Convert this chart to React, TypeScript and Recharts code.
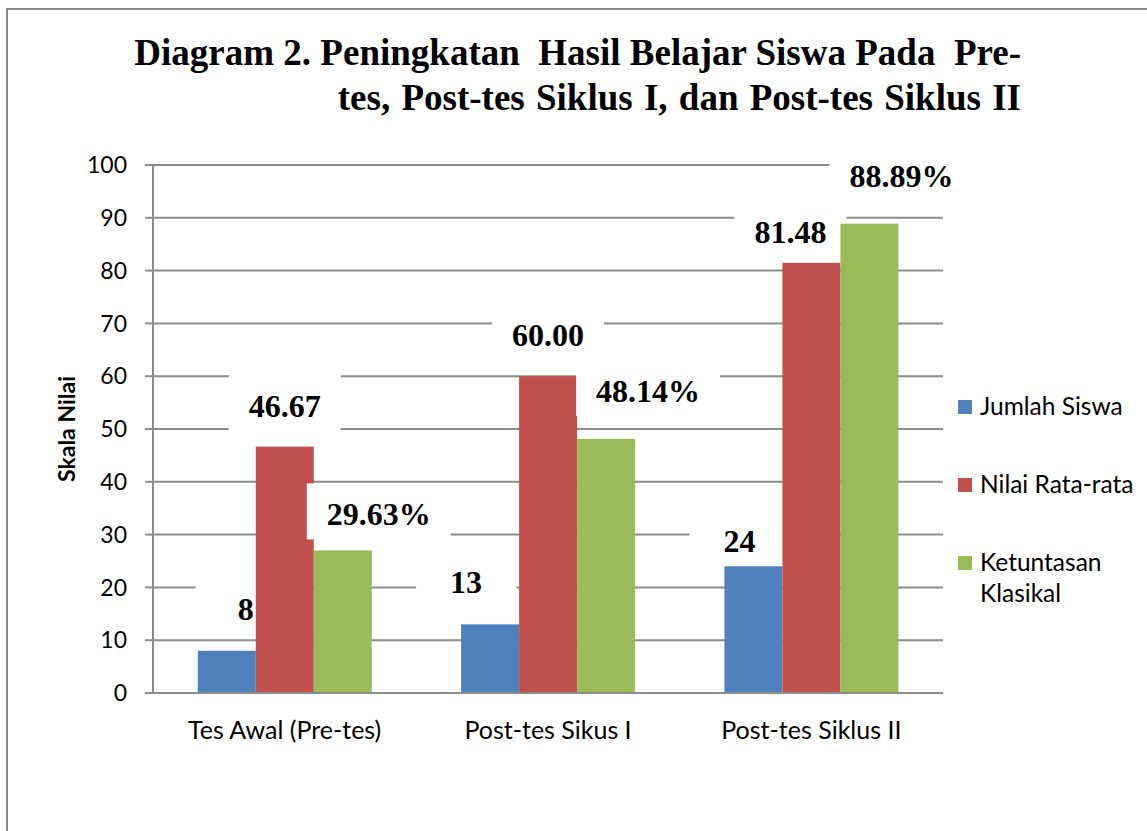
import React from 'react';
import {
  BarChart,
  Bar,
  XAxis,
  YAxis,
  CartesianGrid,
  LabelList
} from 'recharts';

const categories = ['Tes Awal (Pre-tes)', 'Post-tes Sikus I', 'Post-tes Siklus II'];
const jumlahSiswa = [8, 13, 24];
const nilaiRataRata = [46.67, 60, 81.48];
const ketuntasanKlasikal = [27, 48.14, 88.89];
const jumlahLabels = ['8', '13', '24'];
const nilaiLabels = ['46.67', '60.00', '81.48'];
const ketuntasanLabels = ['29.63%', '48.14%', '88.89%'];
const yTicks = [0, 10, 20, 30, 40, 50, 60, 70, 80, 90, 100];
const titleLines = ['Diagram 2. Peningkatan  Hasil Belajar Siswa Pada  Pre-', 'tes, Post-tes Siklus I, dan Post-tes Siklus II'];

const series = [
  { key: 'jumlah', name: 'Jumlah Siswa', color: '#4F81BD', labels: jumlahLabels },
  { key: 'nilai', name: 'Nilai Rata-rata', color: '#C0504D', labels: nilaiLabels },
  { key: 'ketuntasan', name: 'Ketuntasan Klasikal', color: '#9BBB59', labels: ketuntasanLabels }
];

const data = categories.map((category, i) => ({
  category,
  jumlah: jumlahSiswa[i],
  nilai: nilaiRataRata[i],
  ketuntasan: ketuntasanKlasikal[i],
  jumlahLabel: jumlahLabels[i],
  nilaiLabel: nilaiLabels[i],
  ketuntasanLabel: ketuntasanLabels[i]
}));

// hand-placed label offsets (dx from bar centre, baseline distance above bar top)
const labelShift: Record<string, number[][]> = {
  jumlah: [[19, 31], [-24, 31], [-14, 14]],
  nilai: [[0, 30], [0, 30], [-21, 20]],
  ketuntasan: [[36, 25], [42, 37], [32, 37]]
};

const serif = '"Liberation Serif", "Times New Roman", serif';
const sans = 'Lato, "Open Sans", sans-serif';
const gridColor = '#8c8c8c';

const textWidth = (s: string, size: number) => {
  let w = 0;
  for (const ch of s) {
    if (ch === '.') w += 0.25;
    else if (ch === '%') w += 1.0;
    else w += 0.5;
  }
  return w * size;
};

const labelPos = (key: string, props: any) => {
  const shift = labelShift[key][props.index] || [0, 30];
  return {
    cx: Number(props.x) + Number(props.width) / 2 + shift[0],
    base: Number(props.y) - shift[1]
  };
};

// bar plus the white box behind its label, so later series paint over it like in Excel
const makeShape = (key: string, labels: string[]) => (props: any) => {
  const { x, y, width, height, fill, index } = props;
  const { cx, base } = labelPos(key, props);
  const w = Math.max(textWidth(labels[index], 32) + 40, 100);
  return (
    <g>
      <rect x={cx - w / 2} y={base - 42} width={w} height={56} fill="#fff" />
      <rect x={x} y={y} width={width} height={height} fill={fill} />
    </g>
  );
};

const makeLabel = (key: string) => (props: any) => {
  const { cx, base } = labelPos(key, props);
  return (
    <text
      x={cx}
      y={base}
      textAnchor="middle"
      fontFamily={serif}
      fontWeight="bold"
      fontSize={32}
      fill="#000"
    >
      {props.value}
    </text>
  );
};

const YLabel = (props: any) => {
  const { viewBox } = props;
  const cy = viewBox.y + viewBox.height / 2;
  return (
    <text
      x={66}
      y={cy}
      transform={`rotate(-90, 66, ${cy})`}
      textAnchor="middle"
      dominantBaseline="central"
      fontFamily={sans}
      fontWeight="bold"
      fontSize={23}
      fill="#000"
    >
      Skala Nilai
    </text>
  );
};

const Legend = () => (
  <div style={{ position: 'absolute', left: 958, top: 390, fontFamily: sans, fontSize: 24.5, color: '#000' }}>
    {series.map((s) => (
      <div key={s.key} style={{ display: 'flex', alignItems: 'flex-start', height: 78 }}>
        <div style={{ width: 14, height: 14, background: s.color, marginTop: 10, marginRight: 8, flexShrink: 0 }} />
        <div style={{ width: 160, lineHeight: '31px' }}>{s.name}</div>
      </div>
    ))}
  </div>
);

const App: React.FC = () => {
  return (
    <div style={{ position: 'absolute', left: 0, top: 0, width: 1147, height: 831, background: '#fff', overflow: 'hidden' }}>
      <div
        style={{
          position: 'absolute',
          left: 6,
          top: 8,
          width: 1200,
          height: 900,
          borderLeft: '2px solid #8c8c8c',
          borderTop: '2px solid #8c8c8c'
        }}
      />
      <div
        style={{
          position: 'absolute',
          right: 1147 - 1021,
          top: 30,
          fontFamily: serif,
          fontWeight: 'bold',
          fontSize: 37,
          lineHeight: '45px',
          textAlign: 'right',
          whiteSpace: 'pre',
          color: '#000'
        }}
      >
        <div>{titleLines[0]}</div>
        <div style={{ wordSpacing: 2 }}>{titleLines[1]}</div>
      </div>
      <div style={{ position: 'absolute', left: 0, top: 0 }}>
        <BarChart
          width={1147}
          height={831}
          data={data}
          margin={{ top: 165, right: 204, bottom: 98, left: 0 }}
          barCategoryGap="17%"
          barGap={0}
        >
          <CartesianGrid vertical={false} stroke={gridColor} strokeWidth={2} />
          <XAxis
            dataKey="category"
            height={40}
            tickLine={false}
            tickSize={0}
            tickMargin={28}
            axisLine={{ stroke: gridColor, strokeWidth: 2 }}
            tick={{ fontFamily: sans, fontSize: 25, fill: '#000' }}
            interval={0}
          />
          <YAxis
            width={153}
            domain={[0, 100]}
            ticks={yTicks}
            tickSize={8}
            tickMargin={18}
            tickLine={{ stroke: gridColor, strokeWidth: 2 }}
            axisLine={{ stroke: gridColor, strokeWidth: 2 }}
            tick={{ fontFamily: sans, fontSize: 23, fill: '#000' }}
            label={<YLabel />}
          />
          {series.map((s) => (
            <Bar
              key={s.key}
              dataKey={s.key}
              name={s.name}
              fill={s.color}
              shape={makeShape(s.key, s.labels)}
              isAnimationActive={false}
            >
              <LabelList dataKey={`${s.key}Label`} content={makeLabel(s.key)} />
            </Bar>
          ))}
        </BarChart>
      </div>
      <Legend />
    </div>
  );
};

export default App;
